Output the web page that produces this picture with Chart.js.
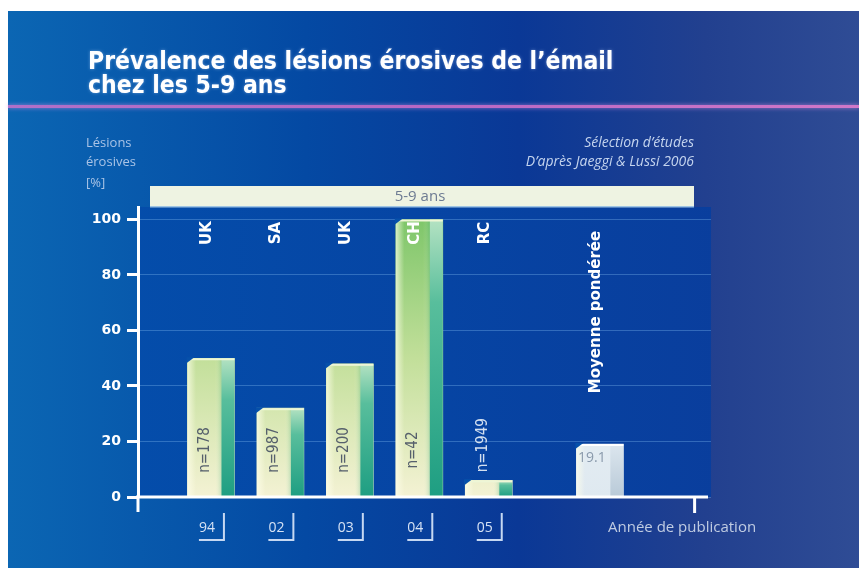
<!DOCTYPE html>
<html>
<head>
<meta charset="utf-8">
<script src="https://cdn.jsdelivr.net/npm/chart.js@4.4.0/dist/chart.umd.min.js"></script>
<style>
  html, body { margin: 0; padding: 0; background: #fff; }
  #wrap { width: 859px; height: 572px; }
</style>
</head>
<body>
<div id="wrap"><canvas id="chart" width="859" height="572"></canvas></div>
<script>
const years = ['94', '02', '03', '04', '05', ''];
const countries = ['UK', 'SA', 'UK', 'CH', 'RC', 'Moyenne pondérée'];
const prevalence = [50, 32, 48, 100, 6, 19.1];
const sampleSizes = ['n=178', 'n=987', 'n=200', 'n=42', 'n=1949', ''];
const yTicks = [0, 20, 40, 60, 80, 100];

// slot of each bar along the x axis (the mean stands apart from the studies)
const slots = [1, 2, 3, 4, 5, 6.6];
const MEAN = 5;

const SIDE = 13;

function frontFill(ctx) {
    const chart = ctx.chart;
    const area = chart.chartArea;
    if (!area) return '#d8e8b0';
    const c = chart.ctx;
    if (ctx.dataIndex === MEAN) {
        const g = c.createLinearGradient(0, area.top, 0, area.bottom);
        g.addColorStop(0, '#f2f7fa');
        g.addColorStop(1, '#dfe9f0');
        return g;
    }
    const y = chart.scales.y;
    const g = c.createLinearGradient(0, y.getPixelForValue(100), 0, y.getPixelForValue(0));
    g.addColorStop(0, '#7ec66a');
    g.addColorStop(0.5, '#c2df9a');
    g.addColorStop(1, '#f4f2d4');
    return g;
}

// background panel, title, header texts
const backdrop = {
    id: 'backdrop',
    beforeDraw(chart) {
        const c = chart.ctx;
        const a = chart.chartArea;
        c.save();
        c.fillStyle = '#fff';
        c.fillRect(0, 0, 859, 572);
        let g = c.createLinearGradient(8, 0, 859, 0);
        g.addColorStop(0, '#0b66b3');
        g.addColorStop(0.35, '#0449a3');
        g.addColorStop(0.6, '#0a3896');
        g.addColorStop(0.82, '#22408f');
        g.addColorStop(1, '#2f4c95');
        c.fillStyle = g;
        c.fillRect(8, 11, 851, 557);

        // plot field
        g = c.createLinearGradient(a.left, 0, a.right, 0);
        g.addColorStop(0, 'rgba(4,76,170,0.95)');
        g.addColorStop(1, 'rgba(8,62,158,0.95)');
        c.fillStyle = g;
        c.fillRect(a.left, 207, a.right - a.left, a.bottom - 207);

        // title
        c.fillStyle = '#fff';
        c.font = 'bold 24.5px "DejaVu Sans Condensed", "DejaVu Sans"';
        c.textAlign = 'left';
        c.textBaseline = 'alphabetic';
        c.shadowColor = 'rgba(200,220,255,0.5)';
        c.shadowBlur = 3;
        c.fillText('Prévalence des lésions érosives de l\u2019émail', 88, 69);
        c.fillText('chez les 5-9 ans', 88, 93);
        c.shadowBlur = 0;

        // magenta rule
        g = c.createLinearGradient(8, 0, 859, 0);
        g.addColorStop(0, '#b070c8');
        g.addColorStop(0.5, '#b868c4');
        g.addColorStop(1, '#d078c8');
        c.fillStyle = g;
        c.shadowColor = 'rgba(220,140,230,0.7)';
        c.shadowBlur = 4;
        c.fillRect(8, 105, 851, 3);
        c.shadowBlur = 0;

        // axis title
        c.fillStyle = '#a9c3e6';
        c.font = '13px "Open Sans"';
        c.textBaseline = 'middle';
        c.fillText('Lésions', 86, 143);
        c.fillText('érosives', 86, 162);
        c.fillText('[%]', 86, 183);

        // source
        c.fillStyle = '#c4d4ee';
        c.font = 'italic 14px "Open Sans"';
        c.textAlign = 'right';
        c.fillText('Sélection d\u2019études', 694, 143);
        c.fillText('D\u2019après Jaeggi & Lussi 2006', 694, 162);

        // age band
        c.fillStyle = '#eef3e2';
        c.fillRect(150, 186, 544, 21);
        c.fillStyle = '#9ec4e4';
        c.fillRect(150, 206, 544, 1.5);
        c.fillStyle = '#6c7a92';
        c.font = '15px "Open Sans"';
        c.textAlign = 'center';
        c.fillText('5-9 ans', 420, 197);
        c.restore();
    }
};

// 3D faces, labels and the x axis
const decorations = {
    id: 'decorations',
    afterDatasetsDraw(chart) {
        const c = chart.ctx;
        const a = chart.chartArea;
        const xs = chart.scales.x;
        const meta = chart.getDatasetMeta(0);
        c.save();
        meta.data.forEach((bar, i) => {
            const p = bar.getProps(['x', 'y', 'base', 'width'], true);
            const left = p.x - p.width / 2;
            const right = p.x + p.width / 2;
            const isMean = i === MEAN;

            // side face
            let g = c.createLinearGradient(0, p.y, 0, p.base);
            if (isMean) {
                g.addColorStop(0, '#dce6ee');
                g.addColorStop(1, '#b9cad8');
            } else {
                g.addColorStop(0, '#b4e2c2');
                g.addColorStop(0.3, '#58be9c');
                g.addColorStop(1, '#1e9e82');
            }
            c.fillStyle = g;
            c.fillRect(right - SIDE, p.y, SIDE, p.base - p.y);

            // light left edge of front face
            g = c.createLinearGradient(left, 0, right - SIDE, 0);
            g.addColorStop(0, 'rgba(255,255,235,0.7)');
            g.addColorStop(0.25, 'rgba(255,255,235,0)');
            g.addColorStop(0.8, 'rgba(255,255,235,0)');
            g.addColorStop(1, isMean ? 'rgba(255,255,255,0)' : 'rgba(60,170,120,0.25)');
            c.fillStyle = g;
            c.fillRect(left, p.y, p.width - SIDE, p.base - p.y);

            // bevelled top
            c.fillStyle = isMean ? '#ffffff' : '#eef6d6';
            c.fillRect(left, p.y, p.width, 2);
            c.fillStyle = '#0650aa';
            c.beginPath();
            c.moveTo(left - 1, p.y - 1);
            c.lineTo(left + 7, p.y - 1);
            c.lineTo(left - 1, p.y + 5);
            c.closePath();
            c.fill();

            // country label at the top
            c.save();
            c.translate(p.x - 4, isMean ? 312 : 233);
            c.rotate(-Math.PI / 2);
            c.fillStyle = '#fff';
            c.font = 'bold 15px "DejaVu Sans"';
            c.textAlign = 'center';
            c.textBaseline = 'middle';
            c.fillText(countries[i], 0, 0);
            c.restore();

            // sample size
            if (sampleSizes[i]) {
                const inside = p.base - p.y > 80;
                c.save();
                c.font = '15px "DejaVu Sans Condensed", "DejaVu Sans"';
                const w = c.measureText(sampleSizes[i]).width;
                const cy = inside ? 450 : p.y - 8 - w / 2;
                c.translate(p.x - 6, cy);
                c.rotate(-Math.PI / 2);
                c.fillStyle = inside ? '#56606c' : '#d4e0f0';
                c.textAlign = 'center';
                c.textBaseline = 'middle';
                c.fillText(sampleSizes[i], 0, 0);
                c.restore();
            } else {
                c.fillStyle = '#8a9aac';
                c.font = '14px "Open Sans"';
                c.textAlign = 'center';
                c.textBaseline = 'middle';
                c.fillText(String(prevalence[i]), p.x - 8, p.y + 14);
            }

            // year below the axis, with its bracket
            if (years[i]) {
                c.fillStyle = '#d6e2f4';
                c.font = '14px "Open Sans"';
                c.textAlign = 'center';
                c.textBaseline = 'middle';
                c.fillText(years[i], p.x - 4, 528);
                c.strokeStyle = '#c6d8f2';
                c.lineWidth = 2;
                c.beginPath();
                c.moveTo(p.x + 13, 513);
                c.lineTo(p.x + 13, 540);
                c.lineTo(p.x - 12, 540);
                c.stroke();
            }
        });

        // x axis line, end tick, y axis extension
        c.fillStyle = '#fff';
        c.fillRect(a.left - 2, a.bottom - 1.5, 710 - a.left, 3);
        c.fillRect(a.left - 1.5, a.bottom, 3, 15);
        c.fillRect(xs.getPixelForValue(8) - 4, a.bottom, 3, 16);

        c.fillStyle = '#c0cce2';
        c.font = '15px "Open Sans"';
        c.textAlign = 'left';
        c.textBaseline = 'middle';
        c.fillText('Année de publication', 608, 528);
        c.restore();
    }
};

new Chart(document.getElementById('chart'), {
    type: 'bar',
    data: {
        datasets: [{
            data: slots.map((x, i) => ({ x: x, y: prevalence[i] })),
            backgroundColor: frontFill,
            borderWidth: 0,
            barThickness: 47
        }]
    },
    options: {
        responsive: false,
        animation: false,
        layout: { padding: { left: 78, right: 148, top: 207, bottom: 75 } },
        plugins: {
            legend: { display: false },
            tooltip: { enabled: false }
        },
        scales: {
            x: {
                type: 'linear',
                min: -0.05,
                max: 8.2,
                offset: false,
                display: false
            },
            y: {
                min: 0,
                max: 104.5,
                afterFit: function(scale) {
                    scale.width = 60;
                },
                afterBuildTicks: function(scale) {
                    scale.ticks = yTicks.map(v => ({ value: v }));
                },
                border: { color: '#fff', width: 3 },
                grid: {
                    color: 'rgba(130,185,240,0.35)',
                    lineWidth: 1,
                    tickColor: '#fff',
                    tickWidth: 3,
                    tickLength: 11
                },
                ticks: {
                    color: '#fff',
                    padding: 6,
                    font: { family: 'DejaVu Sans', weight: 'bold', size: 14 }
                }
            }
        }
    },
    plugins: [backdrop, decorations]
});
</script>
</body>
</html>
